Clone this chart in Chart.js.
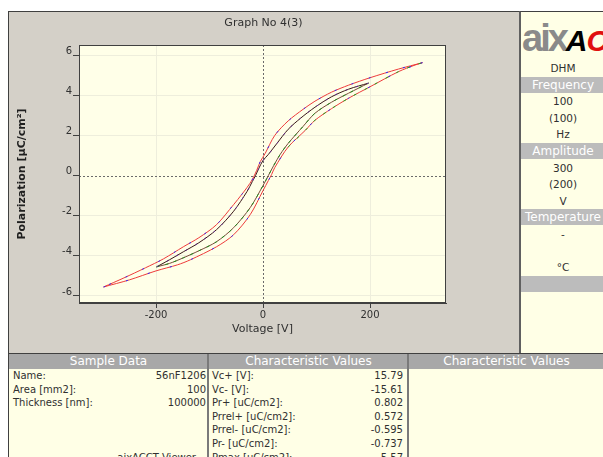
<!DOCTYPE html>
<html>
<head>
<meta charset="utf-8">
<script src="https://cdn.jsdelivr.net/npm/chart.js@4.4.0/dist/chart.umd.min.js"></script>
<style>
  * { box-sizing: border-box; }
  body { margin: 0; width: 603px; height: 457px; overflow: hidden; position: relative; background: #fff;
         font-family: "DejaVu Sans", sans-serif; color: #303030; }
  #frame { position: absolute; left: 8px; top: 11px; width: 511px; height: 343px; background: #d4d0c8;
           border-top: 1px solid #404040; border-left: 1px solid #404040; }
  #canvas-hyst { position: absolute; left: 8px; top: 11px; }
  #title { position: absolute; left: 8px; top: 16px; width: 511px; text-align: center; font-size: 11px; color: #303030; }
  #side { position: absolute; left: 519px; top: 11px; width: 84px; height: 343px; background: #ffffe6;
          border-top: 1px solid #404040; border-left: 2px solid #606060; overflow: hidden; }
  .row { position: absolute; left: 0; width: 84px; height: 16px; line-height: 16px; text-align: center; font-size: 10.5px; }
  .band { background: #bcbcbc; color: #fff; font-size: 12px; }
  #logo { position: absolute; left: 1px; top: 5px; white-space: nowrap; font-family: "Liberation Sans", sans-serif; }
  #table { position: absolute; left: 8px; top: 353px; width: 595px; height: 104px; background: #ffffe6;
           border-top: 1px solid #404040; border-left: 1px solid #404040; overflow: hidden; }
  .head { position: absolute; top: 0; height: 15px; line-height: 15px; background: #a8a8a8; color: #fff; font-size: 12px; text-align: center; }
  .div { position: absolute; top: 0; width: 2px; height: 104px; background: #7a7a7a; }
  .cell { position: absolute; font-size: 10px; line-height: 13.6px; height: 13.6px; white-space: nowrap; }
</style>
</head>
<body>
<div id="frame"></div>
<canvas id="canvas-hyst" width="511" height="343"></canvas>
<div id="title">Graph No 4(3)</div>

<div id="side">
  <div id="logo"><span style="color:#8a8a8a;font-size:38px;font-weight:bold;letter-spacing:-3px">aix</span><span style="font-size:30px;font-weight:bold;font-style:italic;color:#000;letter-spacing:-1px">A</span><span style="font-size:30px;font-weight:bold;font-style:italic;color:#e01010;letter-spacing:-2px">C</span><span style="font-size:30px;font-weight:bold;font-style:italic;color:#000">CT</span></div>
</div>

<div id="table">
  <div class="head" style="left:0;width:199px">Sample Data</div>
  <div class="head" style="left:199px;width:201px">Characteristic Values</div>
  <div class="head" style="left:400px;width:195px">Characteristic Values</div>
  <div class="div" style="left:198px"></div>
  <div class="div" style="left:398px"></div>
</div>

<script>
// P-E hysteresis, outer loop +-300 V, inner loop +-200 V
var outerUpV  = [298, 253, 200, 160, 128, 97, 75, 47, 22, 4, -5, -12, -20, -30, -40, -55, -87, -120, -149, -186, -220, -260, -298];
var outerUpP  = [5.62, 5.3, 4.87, 4.5, 4.15, 3.7, 3.3, 2.72, 2.0, 1.1, 0.7, 0.25, -0.2, -0.6, -0.95, -1.45, -2.45, -3.1, -3.55, -4.15, -4.6, -5.1, -5.55];
var outerLowV = [-298, -250, -200, -160, -136, -87, -55, -24, 0, 10, 16, 22, 47, 79, 97, 128, 160, 200, 253, 284, 298];
var outerLowP = [-5.55, -5.2, -4.75, -4.45, -4.2, -3.55, -2.95, -1.95, -0.75, -0.25, 0.05, 0.4, 1.42, 2.25, 2.75, 3.33, 3.85, 4.42, 5.17, 5.5, 5.62];
var innerUpV  = [197, 160, 128, 97, 70, 47, 26, 10, 0, -8, -14, -20, -30, -55, -87, -120, -149, -175, -199];
var innerUpP  = [4.6, 4.3, 3.92, 3.4, 2.85, 2.3, 1.6, 1.05, 0.75, 0.35, 0.0, -0.3, -0.8, -1.78, -2.7, -3.35, -3.8, -4.2, -4.55];
var innerLowV = [-199, -175, -149, -120, -87, -55, -24, 0, 10, 20, 32, 47, 75, 97, 128, 160, 197];
var innerLowP = [-4.55, -4.38, -4.1, -3.75, -3.3, -2.6, -1.6, -0.5, 0.0, 0.5, 1.05, 1.6, 2.45, 3.1, 3.65, 4.1, 4.6];

var xTicks = [-200, 0, 200];
var yTicks = [-6, -4, -2, 0, 2, 4, 6];

var sideRows = [
  ["DHM", false], ["Frequency", true], ["100", false], ["(100)", false], ["Hz", false],
  ["Amplitude", true], ["300", false], ["(200)", false], ["V", false],
  ["Temperature", true], ["-", false], ["", false], ["\u00b0C", false], ["", true]
];

var sampleLabels = ["Name:", "Area [mm2]:", "Thickness [nm]:"];
var sampleValues = ["56nF1206", "100", "100000"];
var charLabels = ["Vc+ [V]:", "Vc- [V]:", "Pr+ [uC/cm2]:", "Prrel+ [uC/cm2]:", "Prrel- [uC/cm2]:", "Pr- [uC/cm2]:", "Pmax [uC/cm2]:"];
var charValues = ["15.79", "-15.61", "0.802", "0.572", "-0.595", "-0.737", "5.57"];

function pts(vs, ps) {
  return vs.map(function (v, i) { return { x: v, y: ps[i] }; });
}

function branch(vs, ps, color, dash, width) {
  return {
    data: pts(vs, ps),
    showLine: true,
    borderColor: color,
    borderWidth: width || 1,
    borderDash: dash || [],
    pointRadius: 0,
    tension: 0.3,
    fill: false
  };
}

var plotFrame = {
  id: 'plotFrame',
  beforeDraw: function (chart) {
    var ctx = chart.ctx, a = chart.chartArea;
    ctx.save();
    ctx.fillStyle = '#ffffe8';
    ctx.fillRect(a.left, a.top, a.right - a.left, a.bottom - a.top);
    ctx.restore();
  },
  beforeDatasetsDraw: function (chart) {
    var ctx = chart.ctx, a = chart.chartArea;
    var x0 = Math.round(chart.scales.x.getPixelForValue(0)) + 0.5;
    var y0 = Math.round(chart.scales.y.getPixelForValue(0)) + 0.5;
    ctx.save();
    ctx.strokeStyle = '#6a6a6a';
    ctx.lineWidth = 1;
    ctx.setLineDash([2, 2]);
    ctx.beginPath();
    ctx.moveTo(x0, a.top); ctx.lineTo(x0, a.bottom);
    ctx.moveTo(a.left, y0); ctx.lineTo(a.right, y0);
    ctx.stroke();
    ctx.setLineDash([]);
    ctx.strokeStyle = '#404040';
    ctx.strokeRect(a.left + 0.5, a.top + 0.5, a.right - a.left - 1, a.bottom - a.top - 1);
    ctx.restore();
  }
};

function gridColor(c) {
  return (c.tick && c.tick.value === 0) ? 'rgba(0,0,0,0)' : '#eeeedc';
}

// first dataset is drawn on top, so the coloured dashes come before the solid lines
var config = {
  type: 'scatter',
  data: {
    datasets: [
      branch(outerUpV, outerUpP, '#2b2bff', [2, 16]),
      branch(outerLowV, outerLowP, '#2b2bff', [2, 21]),
      branch(outerLowV.slice(12), outerLowP.slice(12), '#22aa22', [3, 9]),
      branch(outerUpV, outerUpP, '#ee3b3b'),
      branch(outerLowV, outerLowP, '#ee3b3b'),
      branch(innerUpV, innerUpP, '#6a2a9a', [2, 9]),
      branch(innerLowV, innerLowP, '#1f8f1f', [3, 6]),
      branch(innerUpV, innerUpP, '#3a1818'),
      branch(innerLowV, innerLowP, '#7a4a3a')
    ]
  },
  options: {
    responsive: false,
    animation: false,
    events: [],
    layout: { padding: { top: 34, right: 73, left: 0, bottom: 0 } },
    plugins: { legend: { display: false }, tooltip: { enabled: false } },
    scales: {
      x: {
        type: 'linear',
        min: -344, max: 342,
        afterBuildTicks: function (s) { s.ticks = xTicks.map(function (v) { return { value: v }; }); },
        afterFit: function (s) { s.height = 51; },
        grid: { color: gridColor, tickColor: '#404040', tickLength: 5 },
        border: { color: '#404040' },
        ticks: { color: '#303030', padding: 1, font: { family: 'DejaVu Sans', size: 10 } },
        title: { display: true, text: 'Voltage [V]', color: '#303030',
                 font: { family: 'DejaVu Sans', size: 11 }, padding: { top: 0, bottom: 18 } }
      },
      y: {
        type: 'linear',
        min: -6.35, max: 6.5,
        afterBuildTicks: function (s) { s.ticks = yTicks.map(function (v) { return { value: v }; }); },
        afterFit: function (s) { s.width = 71; },
        grid: { color: gridColor, tickColor: '#404040', tickLength: 6 },
        border: { color: '#404040' },
        ticks: { color: '#303030', padding: 1, labelOffset: -4, font: { family: 'DejaVu Sans', size: 10 } },
        title: { display: true, text: 'Polarization [\u00b5C/cm\u00b2]', color: '#202020',
                 font: { family: 'DejaVu Sans', size: 11, weight: 'bold' }, padding: { top: 8, bottom: 0 } }
      }
    }
  },
  plugins: [plotFrame]
};

var hystChart = new Chart(document.getElementById('canvas-hyst'), config);

// side panel
var side = document.getElementById('side');
sideRows.forEach(function (r, i) {
  var d = document.createElement('div');
  d.className = r[1] ? 'row band' : 'row';
  d.style.top = (48 + i * 16.6) + 'px';
  d.textContent = r[0];
  side.appendChild(d);
});

// bottom table
var table = document.getElementById('table');
function cell(text, left, row, right) {
  var d = document.createElement('div');
  d.className = 'cell';
  d.style.top = (15 + row * 13.6) + 'px';
  if (right) { d.style.right = (595 - left) + 'px'; } else { d.style.left = left + 'px'; }
  d.textContent = text;
  table.appendChild(d);
}
sampleLabels.forEach(function (t, i) { cell(t, 4, i, false); });
sampleValues.forEach(function (t, i) { cell(t, 198, i, true); });
cell('aixACCT Viewer', 188, 6, true);
charLabels.forEach(function (t, i) { cell(t, 203, i, false); });
charValues.forEach(function (t, i) { cell(t, 395, i, true); });
</script>
</body>
</html>
